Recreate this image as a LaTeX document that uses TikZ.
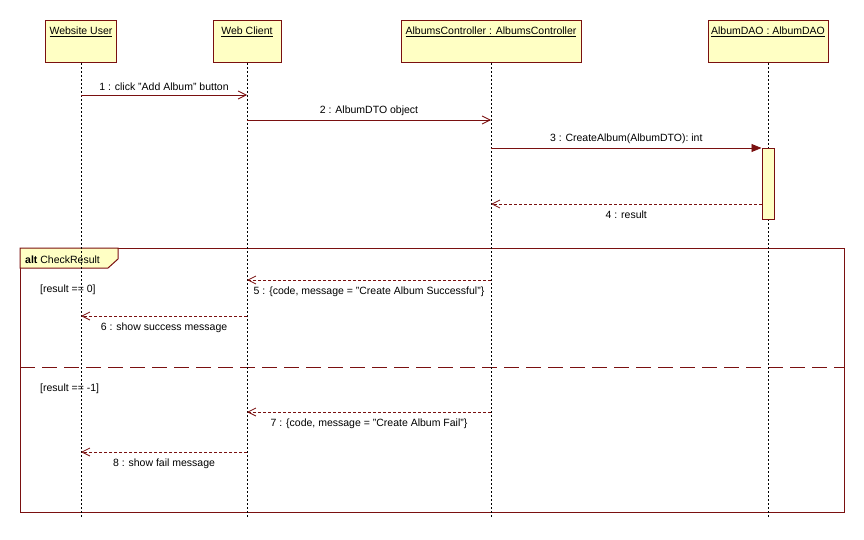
\documentclass[tikz,border=0pt]{standalone}
\usepackage{fontspec}
\setmainfont{Liberation Sans}
\usetikzlibrary{arrows.meta}
\definecolor{umlred}{RGB}{122,16,16}
\definecolor{umlfill}{RGB}{255,255,196}
\begin{document}
\begin{tikzpicture}[x=1pt,y=-1pt,font=\fontsize{10.5}{12.6}\selectfont,
  head/.style={draw=umlred,fill=umlfill,line width=1pt,anchor=north,minimum height=39pt,inner xsep=0pt,inner ysep=3pt,text height=11.3pt,text depth=24.7pt},
  life/.style={line width=0.8pt,dash pattern=on 2pt off 2pt},
  call/.style={draw=umlred,line width=0.8pt,-{Straight Barb[length=8pt,width=8pt]}},
  sync/.style={draw=umlred,line width=0.8pt,-{Triangle[length=10pt,width=8pt]}},
  reply/.style={call,dash pattern=on 3pt off 2pt},
  guard/.style={anchor=west,inner sep=0pt}]
\useasboundingbox (0,0) rectangle (864,540);
\node[draw=umlred,line width=1pt,minimum width=824pt,minimum height=264pt,anchor=north west,inner sep=0pt] (alt) at (20,248) {};
\draw[draw=umlred,fill=umlfill,line width=1pt] (alt.north west) -- ++(98,0) -- ++(0,11) -- ++(-10,9) -- ++(-88,0) -- cycle;
\node[anchor=base west,inner sep=0pt] (altname) at (25,263) {\textbf{alt} CheckResult};
\coordinate (sep) at (0,367);
\draw[draw=umlred,line width=1pt,dash pattern=on 15pt off 7pt] (alt.west |- sep) -- (alt.east |- sep);
\node[guard] (g1) at (40,290) {[result == 0]};
\node[guard] (g2) at (40,389) {[result == -1]};
\node[head,minimum width=71pt] (user) at (81,20) {\underline{Website User}};
\node[head,minimum width=68pt] (client) at (247,20) {\underline{Web Client}};
\node[head,minimum width=180pt] (ctrl) at (491,20) {\underline{AlbumsController : AlbumsController}};
\node[head,minimum width=120pt] (dao) at (768,20) {\underline{AlbumDAO : AlbumDAO}};
\coordinate (bottom) at (0,518);
\foreach \n in {user,client,ctrl,dao}
  \draw[life] (\n) -- (\n |- bottom);
\node[draw=umlred,fill=umlfill,line width=1pt,minimum width=12pt,minimum height=71pt,inner sep=0pt,anchor=north] (act) at (768,148) {};
\foreach \k/\y in {1/95,2/120,3/148,4/204,5/280,6/316,7/412,8/452}
  \coordinate (m\k) at (0,\y);
\draw[call] (user |- m1) -- node[above=1pt] {1 : click "Add Album" button} (client |- m1);
\draw[call] (client |- m2) -- node[above=1pt] {2 : AlbumDTO object} (ctrl |- m2);
\draw[sync] (ctrl |- m3) -- node[above=1pt] {3 : CreateAlbum(AlbumDTO): int} (act.west |- m3);
\draw[reply] (act.west |- m4) -- node[below=3pt] {4 : result} (ctrl |- m4);
\draw[reply] (ctrl |- m5) -- node[below=3pt] {5 : \{code, message = "Create Album Successful"\}} (client |- m5);
\draw[reply] (client |- m6) -- node[below=3pt] {6 : show success message} (user |- m6);
\draw[reply] (ctrl |- m7) -- node[below=3pt] {7 : \{code, message = "Create Album Fail"\}} (client |- m7);
\draw[reply] (client |- m8) -- node[below=3pt] {8 : show fail message} (user |- m8);
\end{tikzpicture}
\end{document}
